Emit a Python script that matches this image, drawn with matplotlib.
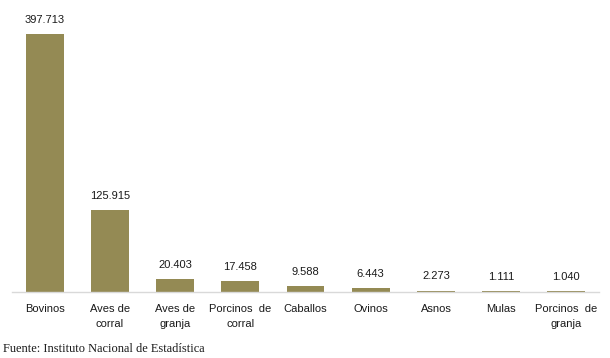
import matplotlib
matplotlib.use("Agg")
import matplotlib.pyplot as plt

categories = ["Bovinos", "Aves de\ncorral", "Aves de\ngranja", "Porcinos  de\ncorral",
              "Caballos", "Ovinos", "Asnos", "Mulas", "Porcinos  de\ngranja"]
values = [397713, 125915, 20403, 17458, 9588, 6443, 2273, 1111, 1040]
value_labels = ["397.713", "125.915", "20.403", "17.458", "9.588", "6.443", "2.273", "1.111", "1.040"]
source = "Fuente: Instituto Nacional de Estadística"

fig = plt.figure(figsize=(6.1, 3.58), dpi=100)
ax = fig.add_axes([12/610, 66/358, 587/610, 282/358])
x = list(range(len(values)))
bars = ax.bar(x, values, width=0.58, color="#948a54")
ax.set_xlim(-0.5, 8.5)
ax.set_ylim(0, 397713 * 282 / 258)
for xi, v, lab in zip(x, values, value_labels):
    ax.annotate(lab, (xi, v), xytext=(0, 6.5), textcoords="offset points",
                ha="center", va="bottom", fontsize=8, family="Liberation Sans", color="#1a1a1a")
for s in ["top", "right", "left"]:
    ax.spines[s].set_visible(False)
ax.spines["bottom"].set_color("#d9d9d9")
ax.spines["bottom"].set_linewidth(1)
ax.set_yticks([])
ax.set_xticks(x)
ax.set_xticklabels(categories, fontsize=8, family="Liberation Sans", color="#1a1a1a", linespacing=1.6)
ax.tick_params(axis="x", length=0, pad=9)
fig.text(3/610, 1 - 352/358, source, fontsize=8.9, family="Liberation Serif", ha="left", va="baseline", color="#1a1a1a")
fig.savefig("out.png", dpi=100)
